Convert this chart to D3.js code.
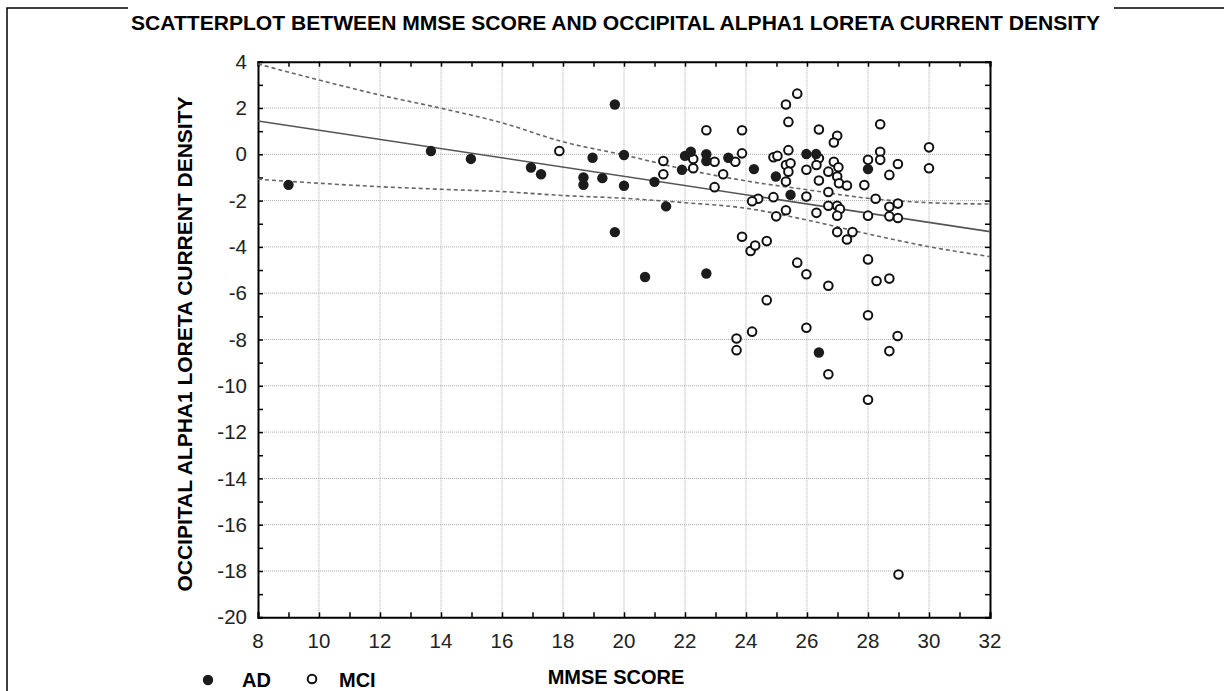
<!DOCTYPE html>
<html>
<head>
<meta charset="utf-8">
<script src="https://cdn.jsdelivr.net/npm/d3@7"></script>
<style>
  body { margin: 0; background: #fff; }
  svg { display: block; font-family: "Liberation Sans", Arial, sans-serif; }
</style>
</head>
<body>
<svg id="chart" width="1224" height="691"></svg>
<script>
// AD group (filled markers): [MMSE, current density]
const adPoints = [
    [9.0, -1.32], [13.67, 0.14], [14.98, -0.2], [16.95, -0.57], [17.28, -0.86],
    [18.97, -0.15], [19.7, 2.15], [20.0, -0.03], [18.67, -1.0], [18.67, -1.32],
    [19.29, -1.03], [20.0, -1.36], [21.0, -1.19], [21.38, -2.25], [19.7, -3.36],
    [20.69, -5.3], [22.7, -5.15], [22.0, -0.07], [22.19, 0.11], [21.9, -0.67],
    [22.7, 0.0], [22.7, -0.29], [23.42, -0.15], [24.26, -0.64], [24.98, -0.96],
    [25.46, -1.75], [25.98, 0.01], [26.3, 0.01], [28.0, -0.64], [26.39, -8.56]
];

// MCI group (open markers)
const mciPoints = [
    [17.88, 0.14], [21.29, -0.29], [21.29, -0.86], [22.27, -0.2], [22.27, -0.6],
    [22.7, 1.04], [22.97, -0.32], [23.25, -0.86], [22.97, -1.42], [23.87, 1.04],
    [23.87, 0.04], [23.65, -0.32], [23.87, -3.56], [24.15, -4.18],
    [25.68, 2.62], [25.31, 2.15], [25.39, 1.4], [26.39, 1.07], [26.99, 0.8],
    [26.88, 0.51], [28.4, 1.3], [25.39, 0.18], [24.9, -0.13], [25.03, -0.07],
    [25.31, -0.46], [25.46, -0.39], [25.39, -0.75], [25.31, -1.18], [26.39, -0.17],
    [26.31, -0.46], [25.98, -0.67], [26.88, -0.32], [27.03, -0.56], [26.7, -0.75],
    [26.99, -0.96], [26.39, -1.13], [27.05, -1.25], [27.31, -1.35], [27.88, -1.33],
    [26.7, -1.63], [28.0, -0.24], [28.4, 0.11], [28.4, -0.24], [28.98, -0.42],
    [28.7, -0.89], [30.0, 0.3], [30.0, -0.6], [25.98, -1.82], [24.9, -1.85],
    [24.4, -1.92], [24.2, -2.03], [25.31, -2.42], [24.99, -2.68], [26.31, -2.53],
    [26.7, -2.22], [26.99, -2.22], [27.08, -2.36], [26.99, -2.65], [28.25, -1.92],
    [28.0, -2.65], [28.7, -2.27], [28.98, -2.13], [28.7, -2.68], [28.98, -2.75],
    [24.3, -3.94], [24.68, -3.75], [26.99, -3.36], [27.49, -3.36], [27.31, -3.68],
    [28.0, -4.54], [25.68, -4.68], [25.98, -5.18], [26.7, -5.68], [28.28, -5.47],
    [28.7, -5.37], [24.68, -6.3], [28.0, -6.95], [24.2, -7.66], [23.69, -7.96],
    [23.69, -8.46], [25.98, -7.49], [28.97, -7.85], [28.7, -8.5], [26.7, -9.5],
    [28.0, -10.6], [29.0, -18.15]
];

// regression line and its confidence band
const fitX = [8, 32];
const fitY = [1.44, -3.34];
const bandX = [8, 10, 12, 14, 16, 18, 20, 22, 24, 26, 28, 30, 32];
const bandUpper = [3.9, 3.21, 2.56, 1.99, 1.36, 0.54, -0.03, -0.65, -1.15, -1.53, -1.9, -2.09, -2.15];
const bandLower = [-1.08, -1.25, -1.4, -1.51, -1.61, -1.78, -1.9, -2.09, -2.33, -2.84, -3.44, -3.99, -4.42];

const xTicks = d3.range(8, 33, 2);
const yTicks = d3.range(-20, 5, 2);

const titleText = 'SCATTERPLOT BETWEEN MMSE SCORE AND OCCIPITAL ALPHA1 LORETA CURRENT DENSITY';
const xTitle = 'MMSE SCORE';
const yTitle = 'OCCIPITAL ALPHA1 LORETA CURRENT DENSITY';
const legendItems = ['AD', 'MCI'];

const svg = d3.select('#chart');

const x = d3.scaleLinear().domain([8, 32]).range([258, 990]);
const y = d3.scaleLinear().domain([-20, 4]).range([617.3, 61.7]);

// outer frame, title sits over its top edge
svg.append('rect')
    .attr('x', 7).attr('y', 8)
    .attr('width', 1300).attr('height', 800)
    .attr('fill', 'none').attr('stroke', '#000').attr('stroke-width', 1.5);

svg.append('rect')
    .attr('x', 128).attr('y', 0).attr('width', 986).attr('height', 18)
    .attr('fill', '#fff');

svg.append('text')
    .attr('x', 131).attr('y', 29.5)
    .attr('textLength', 969).attr('lengthAdjust', 'spacingAndGlyphs')
    .attr('font-size', 21).attr('font-weight', 'bold')
    .text(titleText);

// grid
const grid = svg.append('g')
    .attr('stroke', '#ababab').attr('stroke-width', 1).attr('stroke-dasharray', '1,1');

grid.selectAll('.gx')
    .data(xTicks.slice(1, -1))
    .join('line')
    .attr('x1', d => x(d)).attr('x2', d => x(d))
    .attr('y1', y(4)).attr('y2', y(-20));

grid.selectAll('.gy')
    .data(yTicks.slice(1, -1))
    .join('line')
    .attr('y1', d => y(d)).attr('y2', d => y(d))
    .attr('x1', x(8)).attr('x2', x(32));

// axes: ticks point inward on all four sides
const tickSize = -5;
svg.append('g')
    .attr('transform', `translate(0,${y(-20)})`)
    .call(d3.axisBottom(x).tickValues(d3.range(8, 33)).tickSize(tickSize).tickFormat(''));
svg.append('g')
    .attr('transform', `translate(0,${y(4)})`)
    .call(d3.axisTop(x).tickValues(d3.range(8, 33)).tickSize(tickSize).tickFormat(''));
svg.append('g')
    .attr('transform', `translate(${x(8)},0)`)
    .call(d3.axisLeft(y).tickValues(d3.range(-20, 5)).tickSize(tickSize).tickFormat(''));
svg.append('g')
    .attr('transform', `translate(${x(32)},0)`)
    .call(d3.axisRight(y).tickValues(d3.range(-20, 5)).tickSize(tickSize).tickFormat(''));

svg.selectAll('.domain').attr('stroke', '#000').attr('stroke-width', 2);
svg.selectAll('.tick line').attr('stroke', '#000').attr('stroke-width', 1.5);

// tick labels
svg.append('g').selectAll('text')
    .data(xTicks)
    .join('text')
    .attr('x', d => x(d)).attr('y', 648)
    .attr('text-anchor', 'middle')
    .attr('font-size', 20.5)
    .attr('fill', '#222')
    .text(d => d);

svg.append('g').selectAll('text')
    .data(yTicks)
    .join('text')
    .attr('x', 247).attr('y', d => y(d))
    .attr('dy', '0.35em')
    .attr('text-anchor', 'end')
    .attr('font-size', 20.5)
    .attr('fill', '#222')
    .text(d => d);

// axis titles
svg.append('text')
    .attr('x', 616).attr('y', 684)
    .attr('text-anchor', 'middle')
    .attr('font-size', 20).attr('font-weight', 'bold')
    .text(xTitle);

svg.append('text')
    .attr('transform', 'translate(191.5,344) rotate(-90)')
    .attr('text-anchor', 'middle')
    .attr('textLength', 495).attr('lengthAdjust', 'spacingAndGlyphs')
    .attr('font-size', 21).attr('font-weight', 'bold')
    .text(yTitle);

// regression + confidence band
const line = d3.line()
    .x(d => x(d[0]))
    .y(d => y(d[1]));

const bandLine = d3.line()
    .x(d => x(d[0]))
    .y(d => y(d[1]))
    .curve(d3.curveMonotoneX);

svg.append('path')
    .attr('d', line(d3.zip(fitX, fitY)))
    .attr('fill', 'none').attr('stroke', '#555').attr('stroke-width', 1.6);

[bandUpper, bandLower].forEach(band => {
    svg.append('path')
        .attr('d', bandLine(d3.zip(bandX, band)))
        .attr('fill', 'none').attr('stroke', '#666').attr('stroke-width', 1.6)
        .attr('stroke-dasharray', '4,3');
});

// points
svg.append('g').selectAll('circle')
    .data(mciPoints)
    .join('circle')
    .attr('cx', d => x(d[0])).attr('cy', d => y(d[1]))
    .attr('r', 4.3)
    .attr('fill', '#fff').attr('stroke', '#111').attr('stroke-width', 2);

svg.append('g').selectAll('circle')
    .data(adPoints)
    .join('circle')
    .attr('cx', d => x(d[0])).attr('cy', d => y(d[1]))
    .attr('r', 5.2)
    .attr('fill', '#1c1c1c');

// legend
const legend = svg.append('g');
legend.append('circle')
    .attr('cx', 208).attr('cy', 680).attr('r', 5.2).attr('fill', '#1c1c1c');
legend.append('circle')
    .attr('cx', 312).attr('cy', 679).attr('r', 4.3)
    .attr('fill', '#fff').attr('stroke', '#111').attr('stroke-width', 2);
legend.selectAll('text')
    .data(legendItems)
    .join('text')
    .attr('x', (d, i) => [242, 339][i]).attr('y', 687)
    .attr('font-size', 20).attr('font-weight', 'bold')
    .text(d => d);
</script>
</body>
</html>
